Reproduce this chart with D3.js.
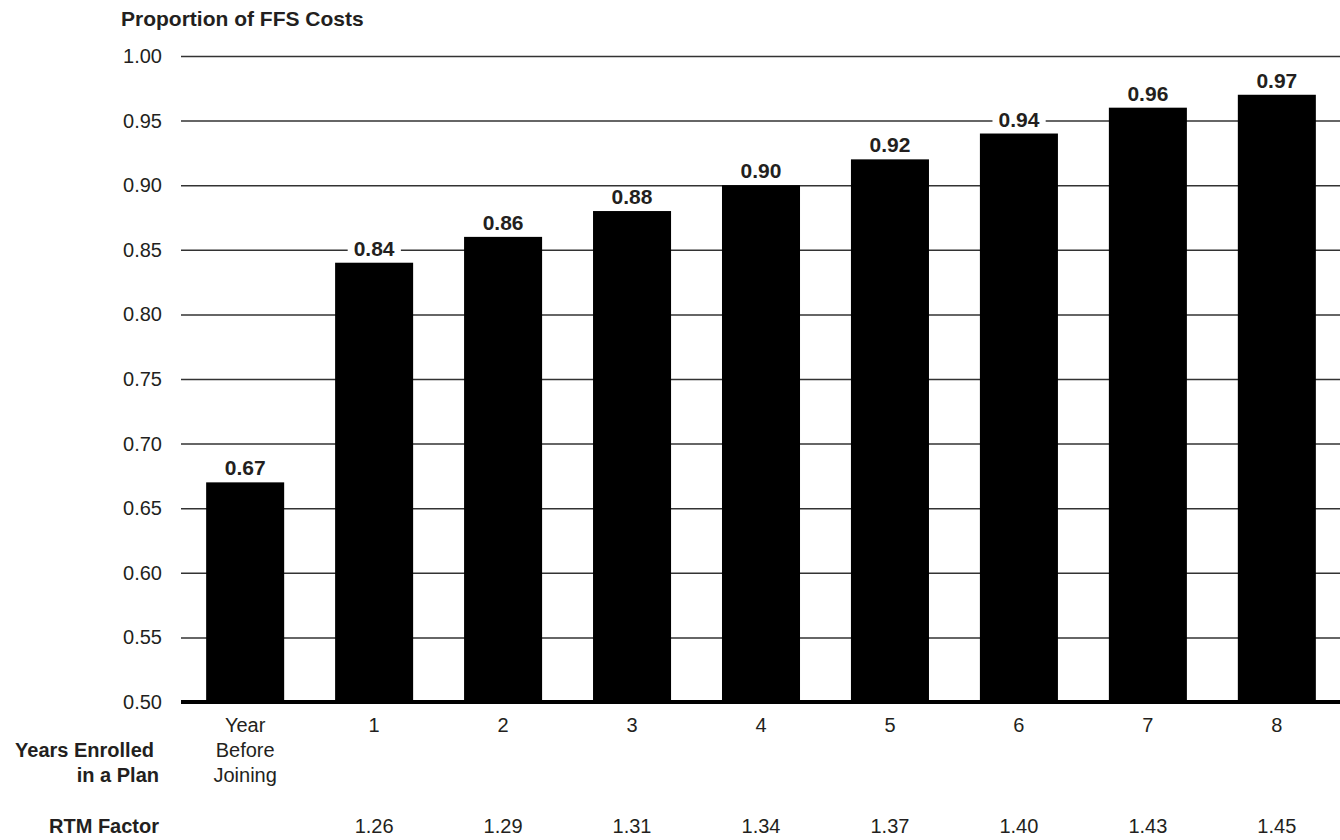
<!doctype html>
<html>
<head>
<meta charset="utf-8">
<title>Proportion of FFS Costs</title>
<script src="https://d3js.org/d3.v7.min.js"></script>
<style>
body { margin: 0; background: #fff; }
text { font-family: 'Liberation Sans', Arial, Helvetica, sans-serif; fill: #231f20; }
.bold { font-weight: bold; }
</style>
</head>
<body>
<div id="chart"></div>
<script>
// chart data
var categories = [["Year", "Before", "Joining"], ["1"], ["2"], ["3"], ["4"], ["5"], ["6"], ["7"], ["8"]];
var values = [0.67, 0.84, 0.86, 0.88, 0.90, 0.92, 0.94, 0.96, 0.97];
var rtmFactors = ["", "1.26", "1.29", "1.31", "1.34", "1.37", "1.40", "1.43", "1.45"];
var yTicks = [0.50, 0.55, 0.60, 0.65, 0.70, 0.75, 0.80, 0.85, 0.90, 0.95, 1.00];

var width = 1340, height = 840;

var svg = d3.select("#chart").append("svg")
  .attr("width", width)
  .attr("height", height);

var x = d3.scaleBand()
  .domain(d3.range(values.length))
  .range([181, 1341])
  .paddingInner(0.395)
  .paddingOuter(0.195);

var y = d3.scaleLinear()
  .domain([0.5, 1.0])
  .range([702, 56]);

// title
svg.append("text")
  .attr("class", "bold")
  .attr("x", 121)
  .attr("y", 26)
  .style("font-size", "21px")
  .text("Proportion of FFS Costs");

// gridlines + tick labels
var yAxis = svg.append("g")
  .attr("transform", "translate(181,0)")
  .call(d3.axisLeft(y).tickValues(yTicks).tickSize(-(width - 181)).tickPadding(19)
    .tickFormat(d3.format(".2f")));
yAxis.select(".domain").remove();
yAxis.selectAll(".tick line").attr("stroke", "#333").attr("stroke-width", 1.5);
yAxis.selectAll(".tick text")
  .attr("fill", "#231f20")
  .style("font-size", "20px")
  .style("font-family", "'Liberation Sans', Arial, sans-serif");

// bars
svg.selectAll(".bar")
  .data(values)
  .enter().append("rect")
  .attr("class", "bar")
  .attr("x", function(d, i) { return x(i); })
  .attr("width", x.bandwidth())
  .attr("y", function(d) { return y(d); })
  .attr("height", function(d) { return y(0.5) - y(d); })
  .attr("fill", "#000");

// baseline
svg.append("line")
  .attr("x1", 181).attr("x2", width)
  .attr("y1", y(0.5)).attr("y2", y(0.5))
  .attr("stroke", "#000")
  .attr("stroke-width", 4);

// value labels with white backing
var labels = svg.selectAll(".val")
  .data(values)
  .enter().append("g")
  .attr("class", "val");
var labelText = labels.append("text")
  .attr("class", "bold")
  .attr("x", function(d, i) { return x(i) + x.bandwidth() / 2; })
  .attr("y", function(d) { return y(d) - 7; })
  .attr("text-anchor", "middle")
  .style("font-size", "21px")
  .text(function(d) { return d3.format(".2f")(d); });
labelText.each(function() {
  var b = this.getBBox();
  d3.select(this.parentNode).insert("rect", "text")
    .attr("x", b.x - 6).attr("y", b.y + 2)
    .attr("width", b.width + 12).attr("height", b.height - 4)
    .attr("fill", "#fff");
});

// category labels
var cat = svg.selectAll(".cat")
  .data(categories)
  .enter().append("text")
  .attr("class", "cat")
  .attr("text-anchor", "middle")
  .style("font-size", "20px");
cat.selectAll("tspan")
  .data(function(d, i) { return d.map(function(s) { return { s: s, i: i }; }); })
  .enter().append("tspan")
  .attr("x", function(d) { return x(d.i) + x.bandwidth() / 2; })
  .attr("y", function(d, j) { return 732 + j * 25; })
  .text(function(d) { return d.s; });

// row headers
svg.append("text").attr("class", "bold")
  .attr("x", 154).attr("y", 757)
  .attr("text-anchor", "end").style("font-size", "20px")
  .text("Years Enrolled");
svg.append("text").attr("class", "bold")
  .attr("x", 159).attr("y", 782)
  .attr("text-anchor", "end").style("font-size", "20px")
  .text("in a Plan");
svg.append("text").attr("class", "bold")
  .attr("x", 159).attr("y", 833)
  .attr("text-anchor", "end").style("font-size", "20px")
  .text("RTM Factor");

// RTM factors
svg.selectAll(".rtm")
  .data(rtmFactors)
  .enter().append("text")
  .attr("class", "rtm")
  .attr("x", function(d, i) { return x(i) + x.bandwidth() / 2; })
  .attr("y", 833)
  .attr("text-anchor", "middle")
  .style("font-size", "20px")
  .text(function(d) { return d; });
</script>
</body>
</html>
